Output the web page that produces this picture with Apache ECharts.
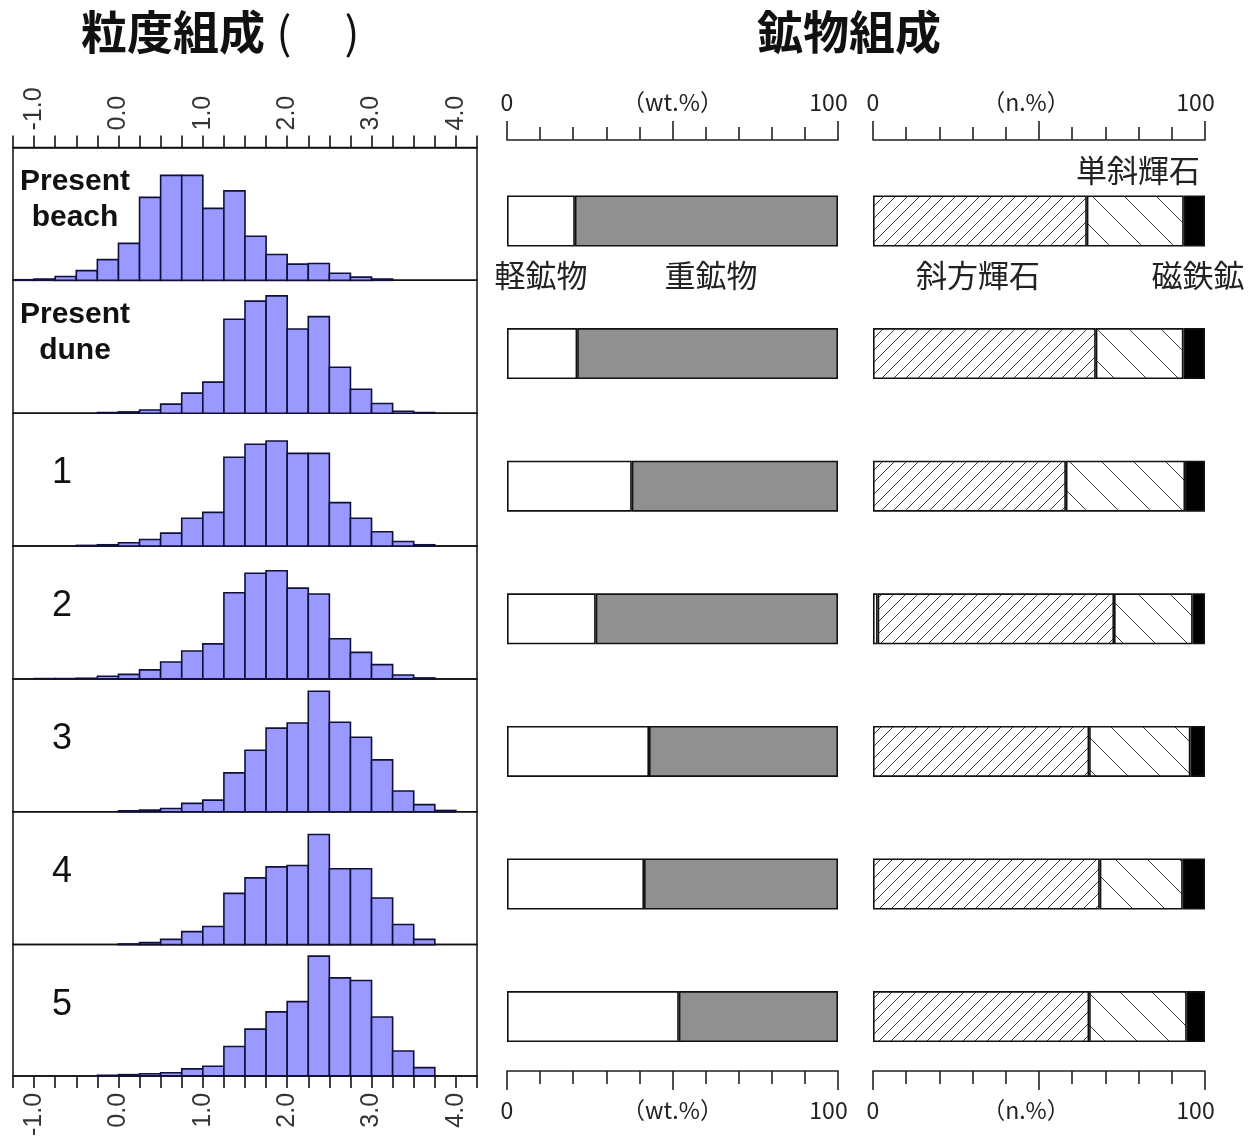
<!DOCTYPE html>
<html>
<head>
<meta charset="utf-8">
<style>
  html, body { margin: 0; padding: 0; background: #fff; }
  #chart { width: 1249px; height: 1139px; }
</style>
<script src="https://cdn.jsdelivr.net/npm/echarts@6/dist/echarts.min.js"></script>
</head>
<body>
<div id="chart"></div>
<script>
// ---- Samples, top to bottom ----
const samples = ['Present\nbeach', 'Present\ndune', '1', '2', '3', '4', '5'];

// ---- Grain size: lower edges of the 0.25-phi classes ----
const phiBins = [-1.25, -1.0, -0.75, -0.5, -0.25, 0.0, 0.25, 0.5, 0.75, 1.0, 1.25,
                 1.5, 1.75, 2.0, 2.25, 2.5, 2.75, 3.0, 3.25, 3.5, 3.75, 4.0];
const binWidth = 0.25;
const phiTickLabels = ['-1.0', '0.0', '1.0', '2.0', '3.0', '4.0'];

// weight frequency (%) in each class
const freqBeach = [0.1, 0.2, 0.6, 1.5, 3.2, 5.7, 12.8, 16.2, 16.2, 11.1, 13.8, 6.8, 4.0, 2.5, 2.6, 1.1, 0.5, 0.2, 0, 0, 0, 0];
const freqDune  = [0, 0, 0, 0, 0.1, 0.2, 0.5, 1.4, 3.1, 4.8, 14.5, 17.3, 18.1, 13.0, 14.9, 7.1, 3.7, 1.5, 0.3, 0.1, 0, 0];
const freqS1    = [0, 0, 0, 0.1, 0.2, 0.5, 1.0, 2.0, 4.3, 5.2, 13.7, 15.7, 16.2, 14.3, 14.3, 6.7, 4.3, 2.2, 0.7, 0.2, 0, 0];
const freqS2    = [0, 0.05, 0.05, 0.1, 0.4, 0.7, 1.4, 2.6, 4.3, 5.4, 13.3, 16.3, 16.7, 14.0, 13.1, 6.2, 4.1, 2.2, 0.6, 0.15, 0, 0];
const freqS3    = [0, 0, 0, 0, 0, 0.15, 0.25, 0.5, 1.3, 1.8, 6.0, 9.5, 12.9, 13.7, 18.6, 13.8, 11.5, 8.0, 3.2, 1.1, 0.2, 0];
const freqS4    = [0, 0, 0, 0, 0, 0.1, 0.3, 0.8, 2.0, 2.8, 7.9, 10.3, 12.0, 12.2, 17.0, 11.7, 11.7, 7.2, 3.1, 0.8, 0, 0];
const freqS5    = [0, 0, 0, 0, 0.1, 0.2, 0.35, 0.5, 1.1, 1.5, 4.6, 7.3, 10.0, 11.6, 18.7, 15.3, 14.9, 9.2, 3.9, 1.3, 0, 0];
const grainFreq = [freqBeach, freqDune, freqS1, freqS2, freqS3, freqS4, freqS5];

// ---- Light / heavy minerals (wt.%) ----
const lightMinerals = [20.5, 21.2, 37.7, 26.8, 42.9, 41.4, 51.9];
const heavyMinerals = [79.5, 78.8, 62.3, 73.2, 57.1, 58.6, 48.1];

// ---- Heavy mineral grains (n.%) ----
const otherGrains   = [0, 0, 0, 1.4, 0, 0, 0];
const orthopyroxene = [64.4, 67.1, 58.1, 71.2, 65.1, 68.3, 65.1];
const clinopyroxene = [29.2, 26.4, 35.9, 23.7, 30.5, 25.0, 29.4];
const magnetite     = [6.4, 6.5, 6.0, 3.7, 4.4, 6.7, 5.5];

const wtAxisLabels = { 0: '0', 50: '（wt.%）', 100: '100' };
const nAxisLabels  = { 0: '0', 50: '（n.%）', 100: '100' };

// ---- Text ----
const titleGrain = '粒度組成';
const titleMineral = '鉱物組成';
const nameLight = '軽鉱物', nameHeavy = '重鉱物';
const nameOrtho = '斜方輝石', nameClino = '単斜輝石', nameMag = '磁鉄鉱', nameOther = 'その他';

const JP = '"Noto Sans CJK JP", "Noto Sans", sans-serif';
const LAT = '"Liberation Sans", Arial, sans-serif';

// hatch tiles for the pyroxene fills
function hatchTile(size, dir) {
  const c = document.createElement('canvas');
  c.width = size; c.height = size;
  const g = c.getContext('2d');
  g.fillStyle = '#fff';
  g.fillRect(0, 0, size, size);
  g.strokeStyle = '#3a3a3a';
  g.lineWidth = 1;
  g.beginPath();
  if (dir === '/') {
    g.moveTo(-2, size + 2); g.lineTo(size + 2, -2);
    g.moveTo(-2, 2); g.lineTo(2, -2);
    g.moveTo(size - 2, size + 2); g.lineTo(size + 2, size - 2);
  } else {
    g.moveTo(-2, -2); g.lineTo(size + 2, size + 2);
    g.moveTo(size - 2, -2); g.lineTo(size + 2, 2);
    g.moveTo(-2, size - 2); g.lineTo(2, size + 2);
  }
  g.stroke();
  return c;
}
const orthoFill = { image: hatchTile(12, '/'), repeat: 'repeat' };
const clinoFill = { image: hatchTile(32, '\\'), repeat: 'repeat' };

// ---- Layout ----
const histLeft = 13, histWidth = 464, histTop = 147.5, panelH = 132.85;
const midLeft = 507, midWidth = 331, rightLeft = 873, rightWidth = 332;
const axisTop = 140, axisBottom = 1071;
const barTop = 154.7, barAreaH = 928.2;

const grids = [], xAxes = [], yAxes = [], series = [];

// grain-size histograms
samples.forEach((name, i) => {
  grids.push({ left: histLeft, width: histWidth, top: histTop + i * panelH, height: panelH,
    show: true, borderColor: '#111', borderWidth: 1.5, containLabel: false });
  const showAxis = i === 0 || i === samples.length - 1;
  xAxes.push({
    type: 'value', gridIndex: i, min: -1.25, max: 4.25, interval: 0.25,
    show: showAxis, position: i === 0 ? 'top' : 'bottom',
    axisLine: { show: true, onZero: false, lineStyle: { color: '#111', width: 1.5 } },
    axisTick: { show: true, length: 12, lineStyle: { color: '#111', width: 1.6 } },
    splitLine: { show: false },
    axisLabel: {
      rotate: i === 0 ? -90 : 90, margin: 17, fontFamily: LAT, fontSize: 25, color: '#333',
      formatter: v => { const s = v.toFixed(1); return phiTickLabels.includes(s) ? s : ''; }
    }
  });
  yAxes.push({ type: 'value', gridIndex: i, min: 0, max: 20.5, show: false });
  series.push({
    type: 'custom', xAxisIndex: i, yAxisIndex: i,
    data: phiBins.map((b, k) => [b, b + binWidth, grainFreq[i][k]]),
    renderItem: (params, api) => {
      const y = api.value(2);
      if (!y) return null;
      const p0 = api.coord([api.value(0), y]);
      const p1 = api.coord([api.value(1), 0]);
      return {
        type: 'rect',
        shape: { x: p0[0], y: p0[1], width: p1[0] - p0[0], height: p1[1] - p0[1] },
        style: { fill: '#9999ff', stroke: '#10103a', lineWidth: 1.6 }
      };
    }
  });
});

// percentage axes (top and bottom) of the two composition columns
function pctAxes(gridIdx, labels, shift) {
  const common = pos => ({
    type: 'value', gridIndex: gridIdx, min: 0, max: 100, interval: 50, position: pos,
    axisLine: { show: true, onZero: false, lineStyle: { color: '#222', width: 1.6 } },
    axisTick: { show: true, length: 19, lineStyle: { color: '#222', width: 1.6 } },
    minorTick: { show: true, splitNumber: 5, length: 13, lineStyle: { color: '#222', width: 1.6 } },
    splitLine: { show: false }, minorSplitLine: { show: false },
    axisLabel: {
      margin: pos === 'top' ? 26 : 28, fontFamily: JP, fontSize: 23, color: '#222',
      formatter: v => v === 100 ? '{e|' + labels[v] + '}' : (v === 50 ? '{m|' + labels[v] + '}' : labels[v]),
      rich: {
        e: { fontFamily: JP, fontSize: 23, color: '#222', padding: [0, 19, 0, 0] },
        m: { fontFamily: JP, fontSize: 23, color: '#222', padding: [0, shift, 0, 0] }
      }
    }
  });
  xAxes.push(common('top'));
  xAxes.push(common('bottom'));
  yAxes.push({ type: 'value', gridIndex: gridIdx, show: false, min: 0, max: 1 });
}
const gMidAxis = grids.length;
grids.push({ left: midLeft, width: midWidth, top: axisTop, height: axisBottom - axisTop });
pctAxes(gMidAxis, wtAxisLabels, 0);
const gRightAxis = grids.length;
grids.push({ left: rightLeft, width: rightWidth, top: axisTop, height: axisBottom - axisTop });
pctAxes(gRightAxis, nAxisLabels, 26);

// composition bars
function barGrid(left, width) {
  const g = grids.length;
  grids.push({ left, width, top: barTop, height: barAreaH });
  xAxes.push({ type: 'value', gridIndex: g, min: 0, max: 100, show: false });
  yAxes.push({ type: 'category', gridIndex: g, data: samples, inverse: true, show: false });
  return { x: xAxes.length - 1, y: yAxes.length - 1 };
}
const midIdx = barGrid(midLeft, midWidth);
const rightIdx = barGrid(rightLeft, rightWidth);

const barBase = { type: 'bar', barWidth: 51, silent: true, animation: false };
const edge = { borderColor: '#111', borderWidth: 1.6 };
series.push(Object.assign({}, barBase, { name: nameLight, stack: 'wt', xAxisIndex: midIdx.x, yAxisIndex: midIdx.y,
  data: lightMinerals, itemStyle: Object.assign({ color: '#fff' }, edge) }));
series.push(Object.assign({}, barBase, { name: nameHeavy, stack: 'wt', xAxisIndex: midIdx.x, yAxisIndex: midIdx.y,
  data: heavyMinerals, itemStyle: Object.assign({ color: '#909090' }, edge) }));
series.push(Object.assign({}, barBase, { name: nameOther, stack: 'n', xAxisIndex: rightIdx.x, yAxisIndex: rightIdx.y,
  data: otherGrains.map(v => v || '-'), itemStyle: Object.assign({ color: '#fff' }, edge) }));
series.push(Object.assign({}, barBase, { name: nameOrtho, stack: 'n', xAxisIndex: rightIdx.x, yAxisIndex: rightIdx.y,
  data: orthopyroxene, itemStyle: Object.assign({ color: orthoFill }, edge) }));
series.push(Object.assign({}, barBase, { name: nameClino, stack: 'n', xAxisIndex: rightIdx.x, yAxisIndex: rightIdx.y,
  data: clinopyroxene, itemStyle: Object.assign({ color: clinoFill }, edge) }));
series.push(Object.assign({}, barBase, { name: nameMag, stack: 'n', xAxisIndex: rightIdx.x, yAxisIndex: rightIdx.y,
  data: magnetite, itemStyle: Object.assign({ color: '#000' }, edge) }));

// ---- Texts ----
function txt(text, x, y, font, opts) {
  return {
    type: 'text', x, y, silent: true,
    style: Object.assign({ text, font, fill: '#111', align: 'center', verticalAlign: 'middle',
      textAlign: 'center', textVerticalAlign: 'middle' }, (opts && opts.style) || {})
  };
}
const graphics = [
  txt(titleGrain, 173, 32, 'bold 46px ' + JP),
  txt('(', 284, 32, '44px ' + JP),
  txt(')', 352, 32, '44px ' + JP),
  txt(titleMineral, 849, 32, 'bold 46px ' + JP),
  txt(nameClino, 1138, 170, '31px ' + JP, { style: { fill: '#222' } }),
  txt(nameLight, 541, 275, '31px ' + JP, { style: { fill: '#222' } }),
  txt(nameHeavy, 711, 275, '31px ' + JP, { style: { fill: '#222' } }),
  txt(nameOrtho, 978, 275, '31px ' + JP, { style: { fill: '#222' } }),
  txt(nameMag, 1198, 275, '31px ' + JP, { style: { fill: '#222' } })
];
samples.forEach((name, i) => {
  const top = histTop + i * panelH;
  if (/[a-z]/i.test(name)) {
    graphics.push(txt(name, 75, top + 52, 'bold 30px ' + LAT, { style: { lineHeight: 36, fill: '#111' } }));
  } else {
    graphics.push(txt(name, 62, top + 60, '36px ' + LAT, { style: { fill: '#111' } }));
  }
});

const chart = echarts.init(document.getElementById('chart'), null, { renderer: 'canvas' });
chart.setOption({
  animation: false,
  backgroundColor: '#fff',
  grid: grids,
  xAxis: xAxes,
  yAxis: yAxes,
  series: series,
  graphic: graphics
});
</script>
</body>
</html>
